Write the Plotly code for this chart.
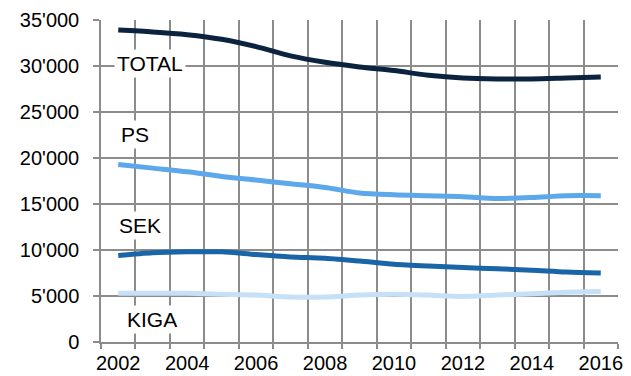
import plotly.graph_objects as go

years = list(range(2002, 2017))
total = [33900, 33700, 33400, 32900, 32100, 31100, 30400, 29900, 29500, 29000, 28700, 28600, 28600, 28700, 28800]
ps = [19300, 18900, 18500, 18000, 17600, 17200, 16800, 16200, 16000, 15900, 15800, 15600, 15700, 15900, 15900]
sek = [9400, 9700, 9800, 9800, 9500, 9250, 9100, 8800, 8450, 8250, 8100, 7950, 7800, 7600, 7500]
kiga = [5300, 5300, 5300, 5200, 5100, 4900, 4900, 5100, 5200, 5100, 4950, 5100, 5250, 5400, 5500]

series_names = ["TOTAL", "PS", "SEK", "KIGA"]
series_colors = ["#0c2340", "#5ca8ea", "#1a64a8", "#c6e0f7"]
label_x = [2002.93, 2002.5, 2002.63, 2002.97]
label_y = [30300, 22600, 12700, 2400]

y_tickvals = [0, 5000, 10000, 15000, 20000, 25000, 30000, 35000]
y_ticktext = ["0", "5'000", "10'000", "15'000", "20'000", "25'000", "30'000", "35'000"]
x_tickvals = [2002, 2004, 2006, 2008, 2010, 2012, 2014, 2016]

fig = go.Figure()
for name, vals, col in zip(series_names, [total, ps, sek, kiga], series_colors):
    fig.add_trace(go.Scatter(x=years, y=vals, mode="lines", name=name,
                             line=dict(color=col, width=5, shape="spline", smoothing=0.8)))

for name, lx, ly in zip(series_names, label_x, label_y):
    fig.add_annotation(x=lx, y=ly, text=name, showarrow=False, bgcolor="white",
                       font=dict(size=21, color="black"), borderpad=2)

grid_col = "#8c8c8c"
fig.update_layout(
    width=631, height=376,
    margin=dict(l=101, r=13, t=20, b=34, autoexpand=False),
    paper_bgcolor="white", plot_bgcolor="white",
    showlegend=False,
    font=dict(family="Liberation Sans, Arial, sans-serif", color="black"),
    xaxis=dict(range=[2001.5, 2016.5], tickmode="array", tickvals=x_tickvals,
               showgrid=False, ticks="", tickfont=dict(size=20), automargin=False,
               showline=True, linecolor=grid_col, linewidth=1.5,
               minor=dict(tickmode="linear", tick0=2001.5, dtick=1, showgrid=True,
                          gridcolor=grid_col, gridwidth=1.5, ticks="outside",
                          ticklen=5, tickcolor=grid_col, tickwidth=1.5),
               ticklabelstandoff=2,
               zeroline=False),
    yaxis=dict(range=[0, 35000], tickmode="array", tickvals=y_tickvals, ticktext=y_ticktext,
               showgrid=True, gridcolor=grid_col, gridwidth=1.5, automargin=False,
               ticks="outside", ticklen=6, tickcolor=grid_col, tickwidth=1.5,
               tickfont=dict(size=20), showline=True, linecolor=grid_col, linewidth=1.5,
               ticklabelstandoff=10,
               zeroline=False),
)
fig.write_html("out.html")
